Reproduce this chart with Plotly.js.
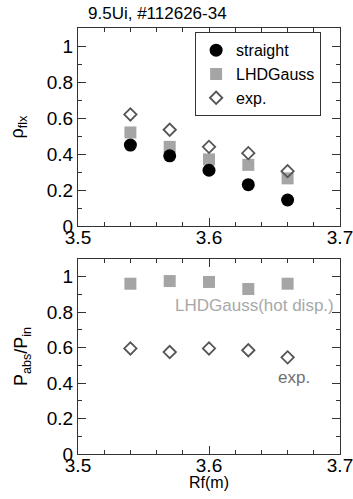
<!DOCTYPE html>
<html><head><meta charset="utf-8">
<script src="https://cdn.plot.ly/plotly-3.0.1.min.js"></script>
<style>html,body{margin:0;padding:0;background:#fff}#plot{width:353px;height:499px}</style>
</head><body><div id="plot"></div>
<script>
const rf = [3.54, 3.57, 3.60, 3.63, 3.66];
const rhoStraight = [0.45, 0.39, 0.31, 0.23, 0.145];
const rhoLHDGauss = [0.52, 0.44, 0.37, 0.34, 0.265];
const rhoExp = [0.62, 0.535, 0.44, 0.405, 0.305];
const pabsLHDGauss = [0.96, 0.975, 0.97, 0.93, 0.96];
const pabsExp = [0.595, 0.575, 0.595, 0.585, 0.545];
const xTicks = [3.5, 3.6, 3.7];
const yTicks = [0, 0.2, 0.4, 0.6, 0.8, 1];
const yTickLabels = ['0', '0.2', '0.4', '0.6', '0.8', '1'];

const FONT = 'Liberation Sans, Arial, sans-serif';
const sqColor = '#a5a5a5';
const dmColor = '#555555';

const traces = [
  {x: rf, y: rhoLHDGauss, xaxis: 'x', yaxis: 'y', mode: 'markers', name: 'LHDGauss', legendrank: 2,
   marker: {symbol: 'square', size: 12, color: sqColor}},
  {x: rf, y: rhoStraight, xaxis: 'x', yaxis: 'y', mode: 'markers', name: 'straight', legendrank: 1,
   marker: {symbol: 'circle', size: 13, color: '#000'}},
  {x: rf, y: rhoExp, xaxis: 'x', yaxis: 'y', mode: 'markers', name: 'exp.', legendrank: 3,
   marker: {symbol: 'diamond-open', size: 9.5, color: dmColor, line: {width: 1.8, color: dmColor}}},
  {x: rf, y: pabsLHDGauss, xaxis: 'x2', yaxis: 'y2', mode: 'markers', showlegend: false,
   marker: {symbol: 'square', size: 12, color: sqColor}},
  {x: rf, y: pabsExp, xaxis: 'x2', yaxis: 'y2', mode: 'markers', showlegend: false,
   marker: {symbol: 'diamond-open', size: 9.5, color: dmColor, line: {width: 1.8, color: dmColor}}}
];

function xax(anchor) {
  return {range: [3.5, 3.7], anchor: anchor, tickvals: xTicks, ticktext: xTicks.map(v => v.toFixed(1)),
    ticks: 'inside', ticklen: 8, tickwidth: 1, tickcolor: '#333', mirror: 'allticks',
    showline: true, linecolor: '#333', linewidth: 1, showgrid: false, zeroline: false,
    ticklabeloverflow: 'allow', ticklabelstandoff: -6, automargin: false,
    minor: {dtick: 0.02, tick0: 3.5, ticks: 'inside', ticklen: 4, tickcolor: '#333', showgrid: false},
    tickfont: {size: 19, family: FONT, color: '#000'}};
}
function yax(anchor, domain, title, standoff) {
  return {range: [0, 1.1], anchor: anchor, domain: domain, tickvals: yTicks, ticktext: yTickLabels,
    ticks: 'inside', ticklen: 8, tickwidth: 1, tickcolor: '#333', mirror: 'allticks',
    showline: true, linecolor: '#333', linewidth: 1, showgrid: false, zeroline: false,
    ticklabeloverflow: 'allow', automargin: false,
    minor: {dtick: 0.1, tick0: 0, ticks: 'inside', ticklen: 4, tickcolor: '#333', showgrid: false},
    tickfont: {size: 19, family: FONT, color: '#000'},
    title: {text: title, font: {size: 18, family: FONT, color: '#000'}, standoff: standoff}};
}

const xa1 = xax('y'); xa1.domain = [0, 1];
const xa2 = xax('y2'); xa2.domain = [0, 1];

const layout = {
  width: 353, height: 499,
  margin: {l: 78, r: 13, t: 28, b: 45},
  paper_bgcolor: '#fff', plot_bgcolor: '#fff',
  font: {family: FONT, color: '#000'},
  showlegend: true,
  legend: {x: 0.447, y: 0.99, xanchor: 'left', yanchor: 'top', bgcolor: '#fff',
    bordercolor: '#333', borderwidth: 1, font: {size: 16, family: FONT, color: '#000'},
    tracegroupgap: 0, itemsizing: 'trace', entrywidth: 132, entrywidthmode: 'pixels'},
  xaxis: xa1,
  yaxis: yax('x', [0.535, 1], 'ρ<sub>flx</sub>', 18),
  xaxis2: xa2,
  yaxis2: yax('x2', [0, 0.458], 'P<sub>abs</sub>/P<sub>in</sub>', 14),
  annotations: [
    {text: '9.5Ui, #112626-34', xref: 'paper', yref: 'paper', x: 0, y: 1, xanchor: 'left', yanchor: 'bottom',
     xshift: 8, yshift: 3, showarrow: false, font: {size: 17, family: FONT, color: '#000'}},
    {text: 'Rf(m)', xref: 'paper', yref: 'paper', x: 0.5, y: 0, xanchor: 'center', yanchor: 'middle',
     yshift: -28, showarrow: false, font: {size: 16, family: FONT, color: '#000'}},
    {text: 'LHDGauss(hot disp.)', xref: 'x2', yref: 'y2', x: 3.697, y: 0.84, xanchor: 'right', yanchor: 'middle',
     showarrow: false, font: {size: 17, family: FONT, color: '#a8a8a8'}},
    {text: 'exp.', xref: 'x2', yref: 'y2', x: 3.679, y: 0.434, xanchor: 'right', yanchor: 'middle',
     showarrow: false, font: {size: 17, family: FONT, color: '#707070'}}
  ]
};

Plotly.newPlot('plot', traces, layout, {displayModeBar: false, staticPlot: true});
</script></body></html>
